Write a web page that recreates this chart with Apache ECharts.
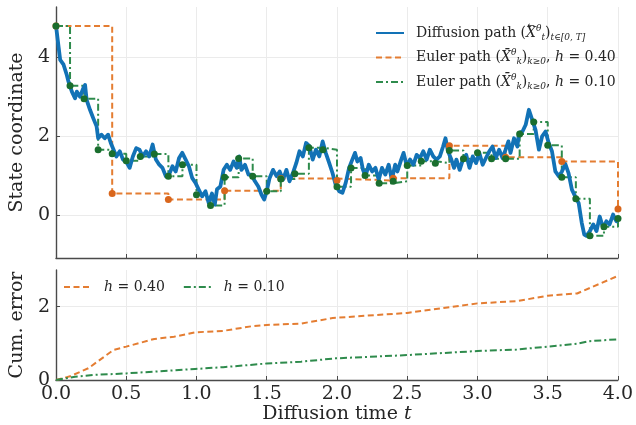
<!DOCTYPE html>
<html>
<head>
<meta charset="utf-8">
<script src="https://cdn.jsdelivr.net/npm/echarts@6/dist/echarts.min.js"></script>
<style>
  html, body { margin: 0; background: #fff; }
  #chart { width: 636px; height: 425px; }
</style>
</head>
<body>
<div id="chart"></div>
<script>
// diffusion path: [t, X_t]
const diffusionPath = [
  [0, 4.80], [0.007, 4.77], [0.018, 4.27], [0.03, 3.93], [0.054, 3.81], [0.077, 3.55], [0.089, 3.38],
  [0.113, 3.13], [0.136, 2.96], [0.148, 3.13], [0.171, 3.0], [0.195, 3.22], [0.207, 3.30], [0.218, 2.92],
  [0.242, 2.67], [0.265, 2.46], [0.289, 2.25], [0.30, 1.95], [0.324, 2.04], [0.347, 1.95], [0.371, 2.04],
  [0.39, 1.83], [0.40, 1.88], [0.43, 1.49], [0.454, 1.62], [0.477, 1.41], [0.50, 1.36], [0.524, 1.20],
  [0.547, 1.49], [0.571, 1.70], [0.594, 1.66], [0.617, 1.49], [0.641, 1.62], [0.664, 1.49], [0.688, 1.79],
  [0.711, 1.41], [0.735, 1.28], [0.758, 1.20], [0.782, 0.99], [0.805, 1.03], [0.829, 1.24], [0.852, 1.11],
  [0.876, 1.45], [0.899, 1.58], [0.923, 1.41], [0.946, 1.24], [0.97, 0.94], [0.993, 0.82], [1.016, 0.65],
  [1.04, 0.48], [1.064, 0.61], [1.087, 0.31], [1.11, 0.55], [1.13, 0.27], [1.146, 0.66], [1.17, 0.73],
  [1.193, 1.15], [1.216, 1.28], [1.24, 1.15], [1.264, 1.36], [1.287, 1.20], [1.304, 1.49], [1.32, 1.15],
  [1.345, 1.28], [1.37, 1.03], [1.39, 1.03], [1.416, 0.86], [1.44, 0.73], [1.463, 0.52], [1.482, 0.40],
  [1.50, 0.61], [1.52, 0.94], [1.545, 1.15], [1.57, 0.99], [1.592, 1.11], [1.616, 0.90], [1.64, 1.15],
  [1.662, 0.86], [1.686, 1.07], [1.71, 1.32], [1.733, 1.62], [1.757, 1.49], [1.78, 1.83], [1.804, 1.75],
  [1.827, 1.41], [1.85, 1.66], [1.874, 1.49], [1.898, 1.87], [1.92, 1.58], [1.945, 1.32], [1.968, 1.07],
  [1.99, 0.78], [2.015, 0.61], [2.039, 0.57], [2.062, 0.82], [2.086, 1.20], [2.109, 1.41], [2.128, 1.58],
  [2.145, 1.36], [2.168, 1.45], [2.185, 1.15], [2.203, 0.99], [2.226, 1.28], [2.25, 1.11], [2.274, 1.20],
  [2.297, 0.90], [2.32, 1.20], [2.344, 1.03], [2.368, 1.28], [2.39, 0.90], [2.414, 1.28], [2.43, 1.11],
  [2.457, 1.41], [2.474, 1.58], [2.497, 1.24], [2.52, 1.41], [2.544, 1.28], [2.567, 1.53], [2.591, 1.45],
  [2.614, 1.62], [2.638, 1.41], [2.661, 1.66], [2.685, 1.49], [2.708, 1.41], [2.732, 1.49], [2.755, 1.74],
  [2.772, 1.95], [2.79, 1.62], [2.814, 1.41], [2.833, 1.20], [2.85, 1.41], [2.873, 1.15], [2.896, 1.41],
  [2.92, 1.53], [2.943, 1.20], [2.966, 1.49], [2.99, 1.32], [3.013, 1.58], [3.037, 1.28], [3.06, 1.45],
  [3.084, 1.62], [3.107, 1.74], [3.13, 1.45], [3.154, 1.66], [3.178, 1.45], [3.20, 1.66], [3.22, 1.87],
  [3.235, 1.58], [3.26, 1.95], [3.284, 1.74], [3.295, 2.08], [3.32, 2.12], [3.343, 2.29], [3.366, 2.67],
  [3.39, 2.41], [3.413, 2.16], [3.437, 1.66], [3.46, 2.00], [3.484, 2.12], [3.507, 1.83], [3.53, 1.62],
  [3.554, 1.11], [3.578, 0.99], [3.60, 1.10], [3.625, 1.30], [3.648, 1.07], [3.672, 0.65], [3.695, 0.48],
  [3.72, 0.31], [3.742, -0.19], [3.76, -0.49], [3.775, -0.52], [3.80, -0.40], [3.824, -0.23], [3.847, -0.40],
  [3.87, -0.03], [3.894, -0.32], [3.917, -0.15], [3.94, -0.23], [3.965, 0.02], [3.988, -0.15], [4.0, -0.07]
];

// Euler path, h = 0.40
const coarseTimes = [0, 0.4, 0.8, 1.2, 1.6, 2.0, 2.4, 2.8, 3.2, 3.6, 4.0];
const coarseValues = [4.79, 0.55, 0.40, 0.62, 0.93, 0.88, 0.94, 1.76, 1.47, 1.36, 0.16];

// Euler path, h = 0.10
const fineTimes = [
  0, 0.1, 0.2, 0.3, 0.4, 0.5, 0.6, 0.7, 0.8, 0.9, 1.0, 1.1, 1.2, 1.3, 1.4, 1.5, 1.6, 1.7, 1.8, 1.9, 2.0,
  2.1, 2.2, 2.3, 2.4, 2.5, 2.6, 2.7, 2.8, 2.9, 3.0, 3.1, 3.2, 3.3, 3.4, 3.5, 3.6, 3.7, 3.8, 3.9, 4.0
];
const fineValues = [
  4.79, 3.28, 2.95, 1.66, 1.56, 1.38, 1.49, 1.55, 0.99, 1.28, 0.52, 0.25, 0.96, 1.44, 0.99, 0.61, 0.92,
  1.05, 1.71, 1.66, 0.72, 1.20, 1.01, 0.81, 0.86, 1.26, 1.37, 1.32, 1.64, 1.43, 1.58, 1.43, 1.43, 2.06,
  2.36, 1.77, 0.96, 0.42, -0.52, -0.29, -0.08
];

// cumulative error: [t, err]
const cumErrCoarse = [
  [0, 0], [0.1, 0.10], [0.23, 0.32], [0.41, 0.82], [0.5, 0.91], [0.7, 1.12], [0.84, 1.18], [0.99, 1.30],
  [1.19, 1.34], [1.4, 1.47], [1.5, 1.50], [1.745, 1.54], [1.97, 1.69], [2.5, 1.83], [3.0, 2.09],
  [3.28, 2.15], [3.5, 2.30], [3.71, 2.36], [4.0, 2.84]
];
const cumErrFine = [
  [0, 0], [0.136, 0.09], [0.28, 0.14], [0.5, 0.18], [0.99, 0.30], [1.19, 0.35], [1.5, 0.45],
  [1.745, 0.50], [1.99, 0.59], [2.5, 0.68], [3.0, 0.79], [3.28, 0.83], [3.5, 0.91], [3.71, 0.99],
  [3.8, 1.06], [4.0, 1.11]
];

const blue = '#1272b6';
const orange = '#e47d32';
const green = '#2e8b4c';
const serif = 'DejaVu Serif';
const textColor = '#262626';

const zip = (ts, vs) => ts.map((t, i) => [t, vs[i]]);

const axisLine = { show: true, onZero: false, lineStyle: { color: '#4a4a4a', width: 1.4 } };
const axisTick = { show: true, inside: true, length: 4, lineStyle: { color: '#4a4a4a', width: 1 } };
const gridLine = { color: '#ebebeb', width: 1 };
const tickFont = { fontFamily: serif, fontSize: 19, color: textColor };

const legendNames = {
  diff: '{p|Diffusion path (}{x|X}{sup|\u03B8}{sub|t}{p|)}{sub|t\u2208[0, T]}',
  euler04: '{p|Euler path (}{x|X\u0304}{sup|\u03B8}{sub|k}{p|)}{sub|k\u22650}{p|, }{x|h}{p| = 0.40}',
  euler01: '{p|Euler path (}{x|X\u0304}{sup|\u03B8}{sub|k}{p|)}{sub|k\u22650}{p|, }{x|h}{p| = 0.10}',
  err04: '{x|h}{p| = 0.40}',
  err01: '{x|h}{p| = 0.10}'
};
const legendRich = {
  p: { fontFamily: serif, fontSize: 14, color: textColor, lineHeight: 18 },
  x: { fontFamily: serif, fontSize: 14, fontStyle: 'italic', color: textColor, lineHeight: 18 },
  sup: { fontFamily: serif, fontSize: 9, fontStyle: 'italic', color: textColor, lineHeight: 9, verticalAlign: 'top' },
  sub: { fontFamily: serif, fontSize: 9, fontStyle: 'italic', color: textColor, lineHeight: 9, verticalAlign: 'bottom' }
};

// legend placement (top panel)
const legLeft = 375, legTop = 24, legIconW = 28, legTextPad = 7;

// left arrow over the X of the diffusion-path label
const ctx = document.createElement('canvas').getContext('2d');
ctx.font = '14px "DejaVu Serif"';
const prefixW = ctx.measureText('Diffusion path (').width;
ctx.font = 'italic 14px "DejaVu Serif"';
const xW = ctx.measureText('X').width;
const arrowX = legLeft + legIconW + 5 + legTextPad + prefixW + xW / 2 + 1;

const chart = echarts.init(document.getElementById('chart'));
chart.setOption({
  animation: false,
  backgroundColor: '#fff',
  grid: [
    { left: 51, right: 18, top: 7, height: 251 },
    { left: 51, right: 18, top: 270, height: 110 }
  ],
  legend: [
    {
      data: ['diff', 'euler04', 'euler01'],
      orient: 'vertical',
      left: legLeft,
      top: legTop,
      padding: 0,
      itemWidth: legIconW,
      itemHeight: 14,
      itemGap: 6.5,
      itemStyle: { opacity: 0 },
      formatter: n => legendNames[n],
      textStyle: { padding: [0, 0, 0, legTextPad], rich: legendRich }
    },
    {
      data: ['err04', 'err01'],
      orient: 'horizontal',
      left: 63,
      top: 280,
      padding: 0,
      itemWidth: 28,
      itemHeight: 14,
      itemGap: 18,
      itemStyle: { opacity: 0 },
      formatter: n => legendNames[n],
      textStyle: { padding: [0, 0, 0, 7], rich: legendRich }
    }
  ],
  graphic: [
    {
      type: 'text',
      x: arrowX,
      y: legTop + 2,
      style: {
        text: '\u2190', fontFamily: 'DejaVu Sans', fontSize: 9, fill: textColor,
        align: 'center', verticalAlign: 'middle'
      }
    }
  ],
  xAxis: [
    {
      gridIndex: 0, type: 'value', min: 0, max: 4, interval: 0.5,
      axisLine, axisTick,
      splitLine: { show: true, showMinLine: false, lineStyle: gridLine },
      axisLabel: { show: false }
    },
    {
      gridIndex: 1, type: 'value', min: 0, max: 4, interval: 0.5,
      axisLine, axisTick,
      splitLine: { show: true, showMinLine: false, lineStyle: gridLine },
      axisLabel: { ...tickFont, margin: 5, formatter: v => v.toFixed(1) },
      name: 'Diffusion time {i|t}',
      nameLocation: 'middle',
      nameGap: 21,
      nameTextStyle: {
        fontFamily: serif, fontSize: 19, color: textColor,
        rich: { i: { fontFamily: serif, fontSize: 19, fontStyle: 'italic', color: textColor } }
      }
    }
  ],
  yAxis: [
    {
      gridIndex: 0, type: 'value', min: -1.08, max: 5.27, splitNumber: 3,
      axisLine, axisTick,
      splitLine: { show: true, showMinLine: false, showMaxLine: false, lineStyle: gridLine },
      axisLabel: { ...tickFont, margin: 6, showMinLabel: false, showMaxLabel: false },
      name: 'State coordinate',
      nameLocation: 'middle',
      nameGap: 22,
      nameTextStyle: { fontFamily: serif, fontSize: 19, color: textColor }
    },
    {
      gridIndex: 1, type: 'value', min: 0, max: 3, interval: 2,
      axisLine, axisTick,
      splitLine: { show: true, showMinLine: false, showMaxLine: false, lineStyle: gridLine },
      axisLabel: { ...tickFont, margin: 6, showMaxLabel: false },
      name: 'Cum. error',
      nameLocation: 'middle',
      nameGap: 22,
      nameTextStyle: { fontFamily: serif, fontSize: 19, color: textColor }
    }
  ],
  series: [
    {
      name: 'euler04', type: 'line', step: 'end', xAxisIndex: 0, yAxisIndex: 0,
      data: zip(coarseTimes, coarseValues), symbol: 'none', z: 2,
      itemStyle: { color: orange },
      lineStyle: { color: orange, width: 2, type: [6, 3.5] }
    },
    {
      name: 'euler01', type: 'line', step: 'end', xAxisIndex: 0, yAxisIndex: 0,
      data: zip(fineTimes, fineValues), symbol: 'none', z: 2,
      itemStyle: { color: green },
      lineStyle: { color: green, width: 2, type: [7, 3, 2, 3] }
    },
    {
      name: 'diff', type: 'line', xAxisIndex: 0, yAxisIndex: 0,
      data: diffusionPath, symbol: 'none', z: 3,
      itemStyle: { color: blue },
      lineStyle: { color: blue, width: 3.8, join: 'round' }
    },
    {
      name: 'coarseDots', type: 'scatter', xAxisIndex: 0, yAxisIndex: 0,
      data: zip(coarseTimes, coarseValues), symbolSize: 7, z: 4,
      itemStyle: { color: '#d9661c', opacity: 1 }
    },
    {
      name: 'fineDots', type: 'scatter', xAxisIndex: 0, yAxisIndex: 0,
      data: zip(fineTimes, fineValues), symbolSize: 7, z: 4,
      itemStyle: { color: '#1a6e2e', opacity: 1 }
    },
    {
      name: 'err04', type: 'line', xAxisIndex: 1, yAxisIndex: 1,
      data: cumErrCoarse, symbol: 'none', z: 2,
      itemStyle: { color: orange },
      lineStyle: { color: orange, width: 2, type: [6, 3.5] }
    },
    {
      name: 'err01', type: 'line', xAxisIndex: 1, yAxisIndex: 1,
      data: cumErrFine, symbol: 'none', z: 2,
      itemStyle: { color: green },
      lineStyle: { color: green, width: 2, type: [7, 3, 2, 3] }
    }
  ]
});
</script>
</body>
</html>
